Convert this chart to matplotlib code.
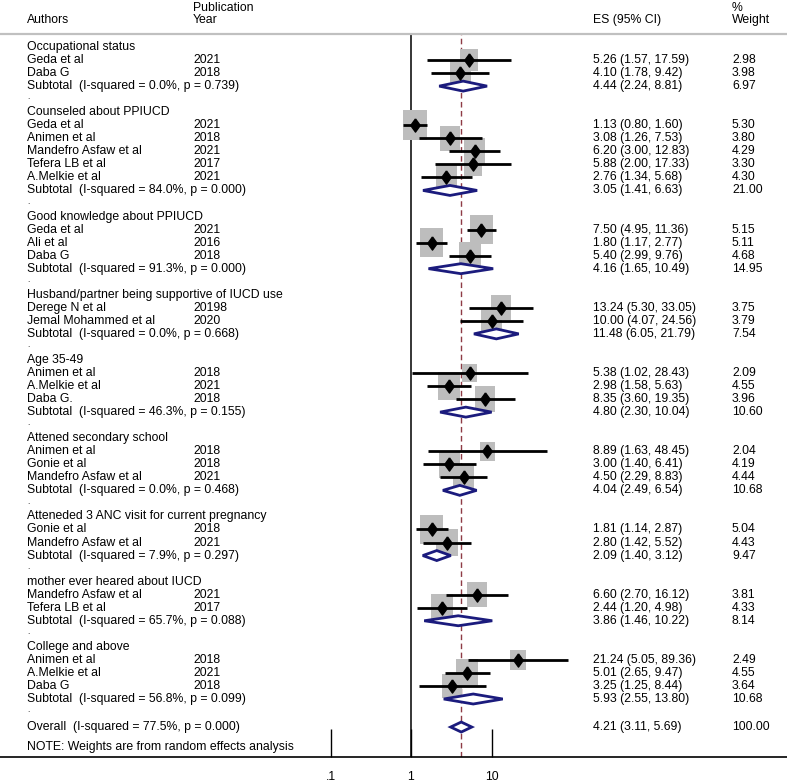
import numpy as np
import matplotlib.pyplot as plt
from matplotlib.patches import Rectangle, Polygon

plt.rcParams['font.family'] = ['Liberation Sans', 'DejaVu Sans']

group_names = ["Occupational status", "Counseled about PPIUCD", "Good knowledge about PPIUCD",
               "Husband/partner being supportive of IUCD use", "Age 35-49", "Attened secondary school",
               "Atteneded 3 ANC visit for current pregnancy", "mother ever heared about IUCD",
               "College and above"]
group_sizes = [2, 5, 3, 2, 3, 3, 2, 2, 3]

study_authors = ["Geda et al", "Daba G",
                 "Geda et al", "Animen et al", "Mandefro Asfaw et al", "Tefera LB et al", "A.Melkie et al",
                 "Geda et al", "Ali et al", "Daba G",
                 "Derege N et al", "Jemal Mohammed et al",
                 "Animen et al", "A.Melkie et al", "Daba G.",
                 "Animen et al", "Gonie et al", "Mandefro Asfaw et al",
                 "Gonie et al", "Mandefro Asfaw et al",
                 "Mandefro Asfaw et al", "Tefera LB et al",
                 "Animen et al", "A.Melkie et al", "Daba G"]
study_years = ["2021", "2018",
               "2021", "2018", "2021", "2017", "2021",
               "2021", "2016", "2018",
               "20198", "2020",
               "2018", "2021", "2018",
               "2018", "2018", "2021",
               "2018", "2021",
               "2021", "2017",
               "2018", "2021", "2018"]
study_es = [5.26, 4.10, 1.13, 3.08, 6.20, 5.88, 2.76, 7.50, 1.80, 5.40, 13.24, 10.00,
            5.38, 2.98, 8.35, 8.89, 3.00, 4.50, 1.81, 2.80, 6.60, 2.44, 21.24, 5.01, 3.25]
study_lo = [1.57, 1.78, 0.80, 1.26, 3.00, 2.00, 1.34, 4.95, 1.17, 2.99, 5.30, 4.07,
            1.02, 1.58, 3.60, 1.63, 1.40, 2.29, 1.14, 1.42, 2.70, 1.20, 5.05, 2.65, 1.25]
study_hi = [17.59, 9.42, 1.60, 7.53, 12.83, 17.33, 5.68, 11.36, 2.77, 9.76, 33.05, 24.56,
            28.43, 5.63, 19.35, 48.45, 6.41, 8.83, 2.87, 5.52, 16.12, 4.98, 89.36, 9.47, 8.44]
study_wt = [2.98, 3.98, 5.30, 3.80, 4.29, 3.30, 4.30, 5.15, 5.11, 4.68, 3.75, 3.79,
            2.09, 4.55, 3.96, 2.04, 4.19, 4.44, 5.04, 4.43, 3.81, 4.33, 2.49, 4.55, 3.64]

sub_i2 = ["0.0%", "84.0%", "91.3%", "0.0%", "46.3%", "0.0%", "7.9%", "65.7%", "56.8%"]
sub_p = ["0.739", "0.000", "0.000", "0.668", "0.155", "0.468", "0.297", "0.088", "0.099"]
sub_es = [4.44, 3.05, 4.16, 11.48, 4.80, 4.04, 2.09, 3.86, 5.93]
sub_lo = [2.24, 1.41, 1.65, 6.05, 2.30, 2.49, 1.40, 1.46, 2.55]
sub_hi = [8.81, 6.63, 10.49, 21.79, 10.04, 6.54, 3.12, 10.22, 13.80]
sub_wt = [6.97, 21.00, 14.95, 7.54, 10.60, 10.68, 9.47, 8.14, 10.68]

overall_i2, overall_p = "77.5%", "0.000"
overall_es, overall_lo, overall_hi, overall_wt = 4.21, 3.11, 5.69, 100.00

W, H = 787, 784
row_px = 13.04
dec_px = 80.5   # pixels per decade
one_px = 411    # pixel position of 1

fig = plt.figure(figsize=(W / 100, H / 100), dpi=100)
ax = fig.add_axes([0, (H - 757) / H, 1, (757 - 34) / H])
ax.set_xscale('log')
ax.set_xlim(10 ** (-one_px / dec_px), 10 ** ((W - one_px) / dec_px))
ax.set_ylim((757 - 47) / row_px, -(47 - 34) / row_px)
ax.set_yticks([])
ax.set_xticks([0.1, 1, 10])
ax.set_xticklabels(['.1', '1', '10'])
ax.xaxis.set_minor_locator(plt.NullLocator())
ax.tick_params(axis='x', direction='in', length=20, width=1, pad=10, labelsize=8.8)
for s in ['left', 'right']:
    ax.spines[s].set_visible(False)
ax.spines['top'].set_color('#c0c0c0')
ax.spines['top'].set_linewidth(1.6)
ax.spines['bottom'].set_linewidth(1.2)

navy = '#1b1b7d'
fs = 8.8
tr = ax.get_yaxis_transform()
x_auth, x_year, x_es, x_wt = 27 / W, 193 / W, 593 / W, 732 / W

ax.axvline(1, color='black', lw=1.1, zorder=1)
ax.axvline(overall_es, color='#8e3b45', lw=1, ls=(0, (4, 2.5)), zorder=1)

# header
ax.text(x_auth, -2.05, "Authors", transform=tr, fontsize=fs, va='center')
ax.text(x_year, -3.0, "Publication", transform=tr, fontsize=fs, va='center')
ax.text(x_year, -2.05, "Year", transform=tr, fontsize=fs, va='center')
ax.text(x_es, -2.05, "ES (95% CI)", transform=tr, fontsize=fs, va='center')
ax.text(x_wt, -3.0, "%", transform=tr, fontsize=fs, va='center')
ax.text(x_wt, -2.05, "Weight", transform=tr, fontsize=fs, va='center')


def ci_text(e, l, h):
    return "%.2f (%.2f, %.2f)" % (e, l, h)


def diamond(y, e, l, h):
    hh = 5 / row_px
    ax.add_patch(Polygon([(l, y), (e, y - hh), (h, y), (e, y + hh)], closed=True,
                         facecolor='white', edgecolor=navy, lw=2, zorder=4))


marker_d = [(0, 1), (0.72, 0), (0, -1), (-0.72, 0), (0, 1)]
row = 0
k = 0
for g, name in enumerate(group_names):
    if g > 0:
        ax.text(x_auth, row - 0.1, ".", transform=tr, fontsize=6, va='center')
        row += 1
    ax.text(x_auth, row, name, transform=tr, fontsize=fs, va='center')
    row += 1
    for j in range(group_sizes[g]):
        e, l, h, w = study_es[k], study_lo[k], study_hi[k], study_wt[k]
        ax.text(x_auth, row, study_authors[k], transform=tr, fontsize=fs, va='center')
        ax.text(x_year, row, study_years[k], transform=tr, fontsize=fs, va='center')
        ax.text(x_es, row, ci_text(e, l, h), transform=tr, fontsize=fs, va='center')
        ax.text(x_wt, row, "%.2f" % w, transform=tr, fontsize=fs, va='center')
        half_w = 10.3 * np.sqrt(w) / 2 / dec_px
        half_h = 13.0 * np.sqrt(w) / 2 / row_px
        x0 = e / 10 ** half_w
        ax.add_patch(Rectangle((x0, row - half_h), e * 10 ** half_w - x0, 2 * half_h,
                               facecolor='#bdbdbd', edgecolor='none', zorder=2))
        ax.plot([l, h], [row, row], color='black', lw=2.0, solid_capstyle='butt', zorder=3)
        ax.plot([e], [row], marker=marker_d, color='black', markersize=9.5, zorder=5)
        row += 1
        k += 1
    ax.text(x_auth, row, "Subtotal  (I-squared = %s, p = %s)" % (sub_i2[g], sub_p[g]),
            transform=tr, fontsize=fs, va='center')
    ax.text(x_es, row, ci_text(sub_es[g], sub_lo[g], sub_hi[g]), transform=tr, fontsize=fs, va='center')
    ax.text(x_wt, row, "%.2f" % sub_wt[g], transform=tr, fontsize=fs, va='center')
    diamond(row, sub_es[g], sub_lo[g], sub_hi[g])
    row += 1

ax.text(x_auth, row - 0.1, ".", transform=tr, fontsize=6, va='center')
row += 1.15
ax.text(x_auth, row, "Overall  (I-squared = %s, p = %s)" % (overall_i2, overall_p),
        transform=tr, fontsize=fs, va='center')
ax.text(x_es, row, ci_text(overall_es, overall_lo, overall_hi), transform=tr, fontsize=fs, va='center')
ax.text(x_wt, row, "%.2f" % overall_wt, transform=tr, fontsize=fs, va='center')
diamond(row, overall_es, overall_lo, overall_hi)
ax.text(x_auth, row + 1.5, "NOTE: Weights are from random effects analysis", transform=tr,
        fontsize=fs, va='center')

fig.savefig('out.png', dpi=100)
